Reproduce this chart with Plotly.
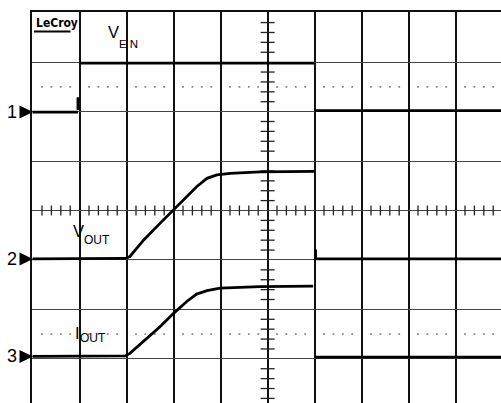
import plotly.graph_objects as go

# ---- data (time in divisions, level in divisions from screen centre) ----
ven_t = [0.0, 0.965, None, 0.965, 0.965, None, 0.99, 5.99, None, 6.0, 9.98]
ven_v = [1.99, 1.99, None, 2.03, 2.29, None, 2.98, 2.98, None, 2.02, 2.02]

vout_t = [0.0, 1.97, 2.07, 2.36, 2.71, 3.00, 3.28, 3.49, 3.71, 3.92, 4.20, 4.84, 5.99, None, 6.02, 6.02, 9.98]
vout_v = [-0.98, -0.97, -0.93, -0.60, -0.26, 0.02, 0.28, 0.48, 0.65, 0.72, 0.75, 0.78, 0.79, None, -0.79, -0.98, -0.98]

iout_t = [0.0, 1.97, 2.07, 2.36, 2.71, 3.00, 3.28, 3.49, 3.71, 3.99, 4.84, 5.97, None, 6.02, 9.98]
iout_v = [-2.95, -2.94, -2.89, -2.65, -2.35, -2.08, -1.84, -1.69, -1.62, -1.57, -1.54, -1.53, None, -2.965, -2.965]

channel_names = ["1", "2", "3"]
channel_levels = [1.99, -0.98, -2.95]

dotted_rows = [2.5, -2.5]

# ---- geometry ----
W, H = 501, 403
L, T = 32, 12
XPX, YPX = 47.0, 49.45          # pixels per division
X0, Y0 = 32.6, 210.5            # pixel of t=0 / v=0

def tx(px):
    return (px - X0) / XPX

def vy(py):
    return (Y0 - py) / YPX

def ppx(px):   # pixel -> paper x
    return (px - L) / (W - L)

def ppy(py):   # pixel -> paper y
    return (H - py) / (H - T)

def v2py(v):
    return Y0 - v * YPX

xr = [tx(L), tx(W)]
yr = [vy(H), vy(T)]

fig = go.Figure()

# dotted reference rows
dot_x, dot_y = [], []
for r in dotted_rows:
    for k in range(1, 50):
        if k % 5:
            dot_x.append(k * 0.2)
            dot_y.append(r)
fig.add_trace(go.Scatter(x=dot_x, y=dot_y, mode="markers",
                         marker=dict(symbol="square", size=1.8, color="#8a8a8a", line=dict(width=0)),
                         hoverinfo="skip", showlegend=False))

# centre cross-hair ticks
hx = [k * 0.2 for k in range(1, 50) if k % 5]
fig.add_trace(go.Scatter(x=hx, y=[0] * len(hx), mode="markers",
                         marker=dict(symbol="line-ns", size=7, line=dict(width=1.3, color="#222")),
                         hoverinfo="skip", showlegend=False))
vyk = [k * 0.2 for k in range(-19, 20) if k % 5]
fig.add_trace(go.Scatter(x=[5] * len(vyk), y=vyk, mode="markers",
                         marker=dict(symbol="line-ew", size=10, line=dict(width=1.3, color="#222")),
                         hoverinfo="skip", showlegend=False))

# waveforms
for tt, vv in [(ven_t, ven_v), (vout_t, vout_v), (iout_t, iout_v)]:
    fig.add_trace(go.Scatter(x=tt, y=vv, mode="lines",
                             line=dict(color="black", width=2.8),
                             connectgaps=False, hoverinfo="skip", showlegend=False))

font = "Liberation Sans, Arial, sans-serif"
anns = []
shapes = []
for name, lv in zip(channel_names, channel_levels):
    py = v2py(lv)
    anns.append(dict(xref="paper", yref="paper", x=ppx(12), y=ppy(py), text=name,
                     showarrow=False, font=dict(family=font, size=18, color="black"),
                     xanchor="center", yanchor="middle"))
    shapes.append(dict(type="path", xref="paper", yref="paper",
                       path="M {:.5f},{:.5f} L {:.5f},{:.5f} L {:.5f},{:.5f} Z".format(
                           ppx(19.5), ppy(py - 6.5), ppx(19.5), ppy(py + 6.5), ppx(33), ppy(py)),
                       fillcolor="black", line=dict(width=0)))

def lab(px, py, text, size):
    anns.append(dict(x=tx(px), y=vy(py), text=text, showarrow=False,
                     font=dict(family=font, size=size, color="black"),
                     xanchor="center", yanchor="middle"))

lab(113, 32, "V", 16.5)
lab(128.5, 44, "E N", 11.5)
lab(78.5, 231, "V", 16.5)
lab(97, 239.5, "OUT", 12)
lab(77.5, 332.5, "I", 16.5)
lab(93, 338, "OUT", 12)

anns.append(dict(x=tx(33.5), y=vy(23), text="<b>LeCroy</b>", showarrow=False,
                 font=dict(family="DejaVu Sans Condensed, Liberation Sans", size=12, color="black"),
                 xanchor="left", yanchor="middle"))

shapes.append(dict(type="line", xref="x", yref="y",
                   x0=tx(34), x1=tx(70.5), y0=vy(31.5), y1=vy(31.5),
                   line=dict(color="black", width=2)))

fig.update_layout(
    width=W, height=H,
    margin=dict(l=L, r=0, t=T, b=0, pad=0),
    paper_bgcolor="white", plot_bgcolor="white",
    showlegend=False,
    annotations=anns,
    shapes=shapes,
    xaxis=dict(range=xr, tick0=0, dtick=1, showgrid=True, gridcolor="#111", gridwidth=1.6,
               zeroline=False, showticklabels=False, ticks="", side="top",
               showline=True, linecolor="#111", linewidth=1.6, fixedrange=True),
    yaxis=dict(range=yr, tick0=0, dtick=1, showgrid=True, gridcolor="#444", gridwidth=1.3,
               zeroline=False, showticklabels=False, ticks="",
               showline=True, linecolor="#111", linewidth=1.6, fixedrange=True),
)

fig.write_html("out.html")
